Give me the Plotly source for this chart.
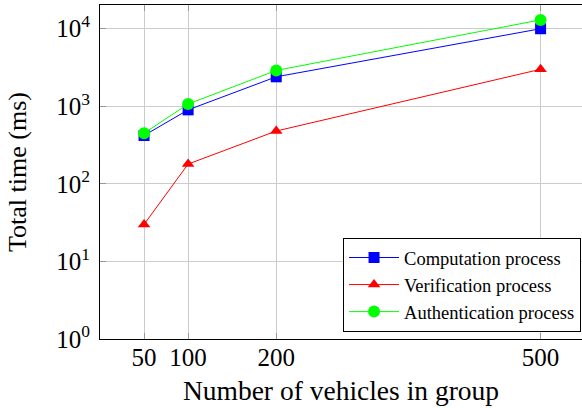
import plotly.graph_objects as go

vehicles = [50, 100, 200, 500]
computation = [420, 900, 2400, 10000]
verification = [30, 180, 480, 3000]
authentication = [450, 1070, 2900, 13000]
x_ticks = [50, 100, 200, 500]
y_ticks = [1, 10, 100, 1000, 10000]
y_ticklabels = ["10<sup>0</sup>", "10<sup>1</sup>", "10<sup>2</sup>", "10<sup>3</sup>", "10<sup>4</sup>"]

font = "Liberation Serif"

fig = go.Figure()
fig.add_trace(go.Scatter(x=vehicles, y=computation, mode="lines+markers", name="Computation process",
                         line=dict(color="#0000ff", width=1),
                         marker=dict(symbol="square", size=11, color="#0000ff")))
fig.add_trace(go.Scatter(x=vehicles, y=verification, mode="lines+markers", name="Verification process",
                         line=dict(color="#ff0000", width=1),
                         marker=dict(symbol="triangle-up", size=11, color="#ff0000")))
fig.add_trace(go.Scatter(x=vehicles, y=authentication, mode="lines+markers", name="Authentication process",
                         line=dict(color="#00ff00", width=1),
                         marker=dict(symbol="circle", size=12, color="#00ff00")))

fig.update_layout(
    width=582, height=408,
    margin=dict(l=100, r=0, t=5, b=69),
    paper_bgcolor="white", plot_bgcolor="white",
    font=dict(family=font, color="black"),
    showlegend=True,
    legend=dict(x=0.998, y=0.021, xanchor="right", yanchor="bottom",
                bgcolor="white", bordercolor="black", borderwidth=1,
                font=dict(family=font, size=18.5), tracegroupgap=0,
                itemwidth=50),
    xaxis=dict(range=[0, 547], tickvals=x_ticks, ticktext=[str(v) for v in x_ticks],
               showgrid=True, gridcolor="#cccccc", gridwidth=1,
               showline=True, linecolor="black", linewidth=1.2, mirror="ticks",
               ticks="inside", ticklen=6, tickcolor="#999999",
               tickfont=dict(family=font, size=25), ticklabelstandoff=-4, zeroline=False,
               title=dict(text="Number of vehicles in group", font=dict(family=font, size=27.5), standoff=10)),
    yaxis=dict(type="log", range=[0, 4.306], tickvals=y_ticks, ticktext=y_ticklabels,
               showgrid=True, gridcolor="#cccccc", gridwidth=1,
               showline=True, linecolor="black", linewidth=1.2,
               ticks="inside", ticklen=6, tickcolor="#999999",
               tickfont=dict(family=font, size=25), ticklabelstandoff=4, zeroline=False,
               title=dict(text="Total time (ms)", font=dict(family=font, size=26), standoff=22)),
)

fig.write_html("out.html", config={"displayModeBar": False})

with open("out.html", "r", encoding="utf-8") as f:
    html = f.read()
html = html.replace("<head>", "<head><style>html,body{margin:0;padding:0;overflow:hidden;}</style>", 1)
with open("out.html", "w", encoding="utf-8") as f:
    f.write(html)
